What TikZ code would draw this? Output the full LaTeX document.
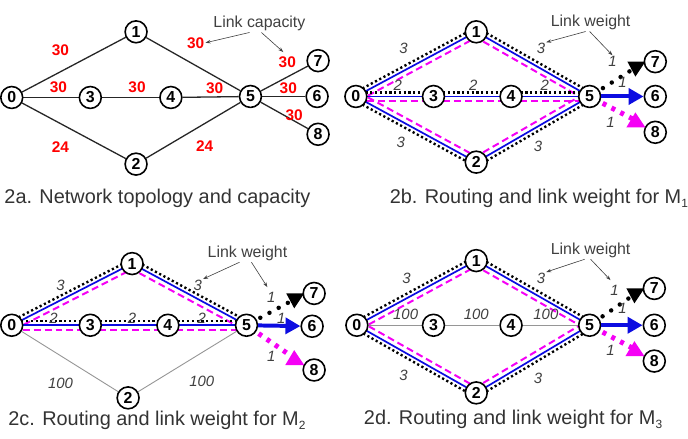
\documentclass[tikz,border=0pt]{standalone}
\usepackage{fontspec}
\setmainfont{Liberation Sans}
\usetikzlibrary{calc,arrows.meta}
\pgfdeclarelayer{bg}
\pgfdeclarelayer{paper}
\pgfsetlayers{paper,bg,main}
\definecolor{fblue}{RGB}{12,12,225}
\definecolor{fmag}{RGB}{245,0,245}
\definecolor{tgray}{RGB}{64,64,64}
\definecolor{lgray}{RGB}{150,150,150}
\newcommand\offl[4]{\draw[#1] ($(#2)!#4!90:(#3)$) -- ($(#3)!#4!-90:(#2)$);}
\newcommand\topedge[2]{\offl{dotl}{#1}{#2}{4pt}\offl{bl}{#1}{#2}{0pt}\offl{mg}{#1}{#2}{-5pt}}
\newcommand\botedge[2]{\offl{dotl}{#1}{#2}{-4pt}\offl{bl}{#1}{#2}{0pt}\offl{mg}{#1}{#2}{5pt}}
\newcommand\subs[1]{\raisebox{-4pt}{\fontsize{12}{12}\selectfont #1}}
\tikzset{
  nd/.style={circle,draw,line width=1.6pt,fill=white,minimum size=22pt,inner sep=0pt,font=\fontsize{16}{16}\selectfont\bfseries},
  edgea/.style={line width=1.3pt,black!85},
  caplbl/.style={red,font=\fontsize{15.5}{15.5}\selectfont\bfseries,inner sep=1pt},
  wt/.style={tgray,font=\fontsize{15}{15}\selectfont\itshape,inner sep=1pt},
  dotl/.style={line width=2.4pt,dash pattern=on 2.2pt off 2.6pt},
  bl/.style={fblue,line width=1.7pt},
  mg/.style={fmag,line width=2pt,dash pattern=on 7pt off 4pt},
  gl/.style={lgray,line width=0.9pt},
  note/.style={tgray,font=\fontsize{16}{16}\selectfont,inner sep=1pt},
  ptr/.style={tgray,line width=0.6pt,-{Stealth[length=5pt,width=3.5pt]}},
  capt/.style={font=\fontsize{20}{20}\selectfont,anchor=base,inner sep=0pt,text=black!80},
  bigdots/.style={line width=4.5pt,dash pattern=on 0pt off 10.5pt,line cap=round,shorten <=4pt},
  mgdots/.style={fmag,line width=5pt,dash pattern=on 4pt off 6pt,shorten <=3pt},
  flow/.style={fblue,line width=4pt,-{Triangle[length=15pt,width=16pt]}}
}
\begin{document}
\begin{tikzpicture}[x=1pt,y=-1pt]
\begin{pgfonlayer}{paper}
\path[use as bounding box,fill=white] (0,0) rectangle (688,441);
\end{pgfonlayer}

% ---------------- Panel a ----------------
\node[nd] (a0) at (11,98) {0};
\node[nd] (a1) at (136,32) {1};
\node[nd] (a2) at (136,165) {2};
\node[nd] (a3) at (90,98) {3};
\node[nd] (a4) at (171,98) {4};
\node[nd] (a5) at (251,97) {5};
\node[nd] (a6) at (318,97) {6};
\node[nd] (a7) at (319,61) {7};
\node[nd] (a8) at (319,135) {8};
\begin{pgfonlayer}{bg}
\draw[edgea] (a0) -- (a1);
\draw[edgea] (a1) -- (a5);
\draw[edgea] (a0) -- (a3);
\draw[edgea] (a3) -- (a4);
\draw[edgea] (a4) -- (a5);
\draw[edgea] (a0) -- (a2);
\draw[edgea] (a2) -- (a5);
\draw[edgea] (a5) -- (a7);
\draw[edgea] (a5) -- (a6);
\draw[edgea] (a5) -- (a8);
\end{pgfonlayer}
\node[caplbl] (la01) at (60,50) {30};
\node[caplbl] (la15) at (196,43) {30};
\node[caplbl] (la57) at (288,63) {30};
\node[caplbl] (la03) at (58,88) {30};
\node[caplbl] (la34) at (137,88) {30};
\node[caplbl] (la45) at (215,89) {30};
\node[caplbl] (la56) at (289,89) {30};
\node[caplbl] (la58) at (295,116) {30};
\node[caplbl] (la02) at (60,148) {24};
\node[caplbl] (la25) at (205,147) {24};
\node[note] (lac) at (260,24) {Link capacity};
\draw[ptr] ($(lac.south)+(-10,0)$) -- (la15.east);
\draw[ptr] ($(lac.south)+(2,0)$) -- ($(la57.north)+(-4,-4)$);
\node[capt] (capa) at (157.5,205) {2a. Network topology and capacity};

% ---------------- Panel b ----------------
\node[nd] (b0) at (357,97) {0};
\node[nd] (b1) at (478,32) {1};
\node[nd] (b2) at (478,163) {2};
\node[nd] (b3) at (435,97) {3};
\node[nd] (b4) at (513,97) {4};
\node[nd] (b5) at (592,97) {5};
\node[nd] (b6) at (658,97) {6};
\node[nd] (b7) at (658,62) {7};
\node[nd] (b8) at (658,133) {8};
\begin{pgfonlayer}{bg}
\topedge{b0}{b1}
\topedge{b1}{b5}
\botedge{b0}{b2}
\botedge{b2}{b5}
\offl{dotl}{b0}{b3}{4pt}
\offl{dotl}{b3}{b4}{4pt}
\offl{dotl}{b4}{b5}{4pt}
\offl{bl}{b0}{b3}{0pt}
\offl{bl}{b3}{b4}{0pt}
\offl{bl}{b4}{b5}{0pt}
\offl{mg}{b0}{b5}{-5pt}
\end{pgfonlayer}
\coordinate (b7t) at ($(b7)+(-20,6)$);
\coordinate (b8t) at ($(b8)+(-20,-12)$);
\draw[bigdots] (b5) -- (b7t);
\draw[mgdots] (b5) -- (b8t);
\fill ($(b7)+(-28,0)$) -- ($(b7)+(-10,0)$) -- ($(b7)+(-20,15)$) -- cycle;
\fill[fmag] ($(b8)+(-29,-5)$) -- ($(b8)+(-10,-5)$) -- ($(b8)+(-20,-20)$) -- cycle;
\draw[flow] (b5) -- (b6);
\node[wt] (b01w) at (405,49) {3};
\node[wt] (b15w) at (543,49) {3};
\node[wt] (b03w) at (399,86) {2};
\node[wt] (b34w) at (475,86) {2};
\node[wt] (b45w) at (547,86) {2};
\node[wt] (b02w) at (402,143) {3};
\node[wt] (b25w) at (540,147) {3};
\node[wt] (b57w) at (615,62) {1};
\node[wt] (b56w) at (625,83) {1};
\node[wt] (b58w) at (613,123) {1};
\node[note] (blw) at (593,23) {Link weight};
\draw[ptr] ($(blw.south)+(-5,0)$) -- (b15w.north east);
\draw[ptr] ($(blw.south)+(-1,0)$) -- (b57w.north);
\node[capt] (capb) at (541,205) {2b. Routing and link weight for M\subs{1}};

% ---------------- Panel c ----------------
\node[nd] (c0) at (11,327) {0};
\node[nd] (c1) at (132,265) {1};
\node[nd] (c2) at (128,400) {2};
\node[nd] (c3) at (90,327) {3};
\node[nd] (c4) at (168,327) {4};
\node[nd] (c5) at (247,327) {5};
\node[nd] (c6) at (313,328) {6};
\node[nd] (c7) at (315,295) {7};
\node[nd] (c8) at (315,372) {8};
\begin{pgfonlayer}{bg}
\topedge{c0}{c1}
\topedge{c1}{c5}
\draw[gl] (c0) -- (c2);
\draw[gl] (c2) -- (c5);
\offl{dotl}{c0}{c3}{4pt}
\offl{dotl}{c3}{c4}{4pt}
\offl{dotl}{c4}{c5}{4pt}
\offl{bl}{c0}{c3}{0pt}
\offl{bl}{c3}{c4}{0pt}
\offl{bl}{c4}{c5}{0pt}
\offl{mg}{c0}{c5}{-5pt}
\end{pgfonlayer}
\coordinate (c7t) at ($(c7)+(-20,6)$);
\coordinate (c8t) at ($(c8)+(-20,-12)$);
\draw[bigdots] (c5) -- (c7t);
\draw[mgdots] (c5) -- (c8t);
\fill ($(c7)+(-28,0)$) -- ($(c7)+(-10,0)$) -- ($(c7)+(-20,15)$) -- cycle;
\fill[fmag] ($(c8)+(-29,-5)$) -- ($(c8)+(-10,-5)$) -- ($(c8)+(-20,-20)$) -- cycle;
\draw[flow] (c5) -- (c6);
\node[wt] (c01w) at (60,287) {3};
\node[wt] (c15w) at (198,287) {3};
\node[wt] (c03w) at (53,320) {2};
\node[wt] (c34w) at (132,320) {2};
\node[wt] (c45w) at (202,320) {2};
\node[wt] (c57w) at (272,299) {1};
\node[wt] (c56w) at (282,320) {1};
\node[wt] (c58w) at (272,358) {1};
\node[wt] (c02w) at (60,385) {100};
\node[wt] (c25w) at (202,383) {100};
\node[note] (clw) at (248,255) {Link weight};
\draw[ptr] ($(clw.south)+(-8,0)$) -- (c15w.north east);
\draw[ptr] ($(clw.south)+(4,0)$) -- ($(c57w.north)+(-4,-4)$);
\node[capt] (capc) at (157,428) {2c. Routing and link weight for M\subs{2}};

% ---------------- Panel d ----------------
\node[nd] (d0) at (358,327) {0};
\node[nd] (d1) at (478,262) {1};
\node[nd] (d2) at (478,395) {2};
\node[nd] (d3) at (435,327) {3};
\node[nd] (d4) at (513,327) {4};
\node[nd] (d5) at (592,327) {5};
\node[nd] (d6) at (657,327) {6};
\node[nd] (d7) at (657,290) {7};
\node[nd] (d8) at (657,363) {8};
\begin{pgfonlayer}{bg}
\topedge{d0}{d1}
\topedge{d1}{d5}
\botedge{d0}{d2}
\botedge{d2}{d5}
\draw[gl] (d0) -- (d3);
\draw[gl] (d3) -- (d4);
\draw[gl] (d4) -- (d5);
\end{pgfonlayer}
\coordinate (d7t) at ($(d7)+(-20,6)$);
\coordinate (d8t) at ($(d8)+(-20,-12)$);
\draw[bigdots] (d5) -- (d7t);
\draw[mgdots] (d5) -- (d8t);
\fill ($(d7)+(-28,0)$) -- ($(d7)+(-10,0)$) -- ($(d7)+(-20,15)$) -- cycle;
\fill[fmag] ($(d8)+(-29,-5)$) -- ($(d8)+(-10,-5)$) -- ($(d8)+(-20,-20)$) -- cycle;
\draw[flow] (d5) -- (d6);
\node[wt] (d01w) at (408,280) {3};
\node[wt] (d15w) at (543,280) {3};
\node[wt] (d03w) at (407,316) {100};
\node[wt] (d34w) at (478,316) {100};
\node[wt] (d45w) at (548,316) {100};
\node[wt] (d02w) at (405,377) {3};
\node[wt] (d25w) at (540,380) {3};
\node[wt] (d57w) at (617,292) {1};
\node[wt] (d56w) at (625,310) {1};
\node[wt] (d58w) at (613,352) {1};
\node[note] (dlw) at (593,252) {Link weight};
\draw[ptr] ($(dlw.south)+(-6,0)$) -- (d15w.north east);
\draw[ptr] ($(dlw.south)+(0,0)$) -- ($(d57w.north)+(-4,-4)$);
\node[capt] (capd) at (515,427) {2d. Routing and link weight for M\subs{3}};
\end{tikzpicture}
\end{document}
